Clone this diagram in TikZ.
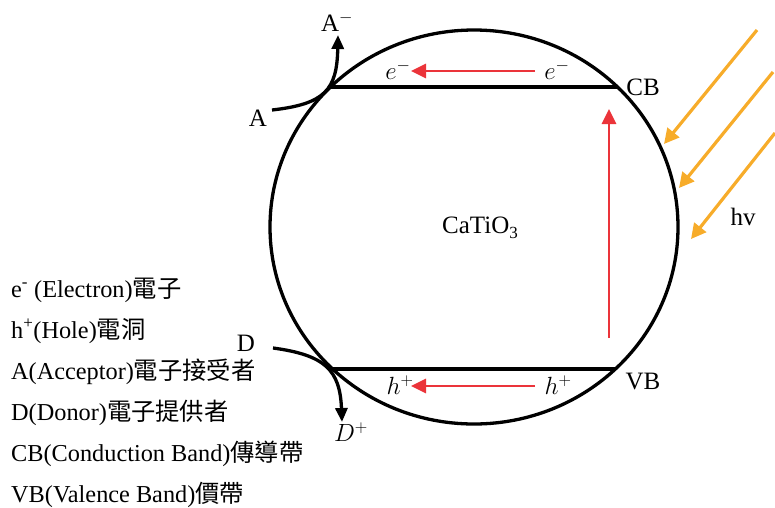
\documentclass[tikz,border=0pt]{standalone}
\usepackage{fontspec}
\setmainfont{Liberation Serif}
\newfontfamily\cjk{Noto Sans CJK TC}
\usetikzlibrary{arrows.meta}
\definecolor{myred}{RGB}{235,52,58}
\definecolor{myorange}{RGB}{247,172,42}
\begin{document}
\begin{tikzpicture}[x=1pt,y=-1pt,
  lbl/.style={inner sep=0pt,font=\fontsize{25}{28}\selectfont},
  mlbl/.style={inner sep=0pt,font=\fontsize{26}{28}\selectfont},
  legend/.style={inner sep=0pt,anchor=base west,font=\fontsize{24.3}{28}\selectfont},
  band/.style={line width=3.3pt,black},
  blackarrow/.style={line width=3.3pt,-{Triangle[length=14pt,width=12pt]}},
  redarrow/.style={line width=2.8pt,myred,-{Triangle[length=15pt,width=14pt]}},
  lightarrow/.style={line width=3.2pt,myorange,-{Triangle[length=15pt,width=15pt]}}]
\useasboundingbox (0,0) rectangle (775,507);

% particle
\draw[line width=3.3pt] (474,227) ellipse [x radius=204pt, y radius=197pt];
\draw[band] (330.5,87) -- (617.5,87);
\draw[band] (332.6,369) -- (615.4,369);

% labels
\node[lbl] (CB) at (643,87) {CB};
\node[lbl] (VB) at (643,381) {VB};
\node[lbl,anchor=base] (cat) at (480,233) {CaTiO\raisebox{-5pt}{\fontsize{17}{17}\selectfont 3}};
\node[lbl] (hv) at (743,217) {hv};
\node[lbl] (A) at (258,118) {A};
\node[lbl] (Am) at (337,22) {A$^{-}$};
\node[lbl] (D) at (246,343) {D};
\node[mlbl] (Dp) at (351,432) {$D^{+}$};
\node[mlbl] (eL) at (398,70) {$e^{-}$};
\node[mlbl] (eR) at (557,70) {$e^{-}$};
\node[mlbl] (hL) at (400,385) {$h^{+}$};
\node[mlbl] (hR) at (558,385) {$h^{+}$};

% electron / hole transfer
\coordinate (eS) at (535,71);
\coordinate (eT) at (411,71);
\draw[redarrow] (eS) -- (eT);
\coordinate (hS) at (535,386);
\coordinate (hT) at (411,386);
\draw[redarrow] (hS) -- (hT);
\coordinate (exS) at (609,338);
\coordinate (exT) at (609,109);
\draw[redarrow] (exS) -- (exT);

% acceptor / donor
\coordinate (Aend) at (338,35);
\draw[blackarrow] (272,110) .. controls (325,104) and (337,90) .. (Aend);
\coordinate (Dend) at (342,422);
\draw[blackarrow] (273,348) .. controls (325,355) and (340,370) .. (Dend);

% light
\coordinate (L1s) at (757,30); \coordinate (L1e) at (664,144);
\coordinate (L2s) at (773,72); \coordinate (L2e) at (679,188);
\coordinate (L3s) at (775,133); \coordinate (L3e) at (691,239);
\draw[lightarrow] (L1s) -- (L1e);
\draw[lightarrow] (L2s) -- (L2e);
\draw[lightarrow] (L3s) -- (L3e);

% legend
\node[legend] (l1) at (11,297) {e\textsuperscript{-} (Electron){\cjk 電子}};
\node[legend] (l2) at (11,338) {h\textsuperscript{+}(Hole){\cjk 電洞}};
\node[legend] (l3) at (11,379) {A(Acceptor){\cjk 電子接受者}};
\node[legend] (l4) at (11,420) {D(Donor){\cjk 電子提供者}};
\node[legend] (l5) at (11,461) {CB(Conduction Band){\cjk 傳導帶}};
\node[legend] (l6) at (11,502) {VB(Valence Band){\cjk 價帶}};
\end{tikzpicture}
\end{document}
